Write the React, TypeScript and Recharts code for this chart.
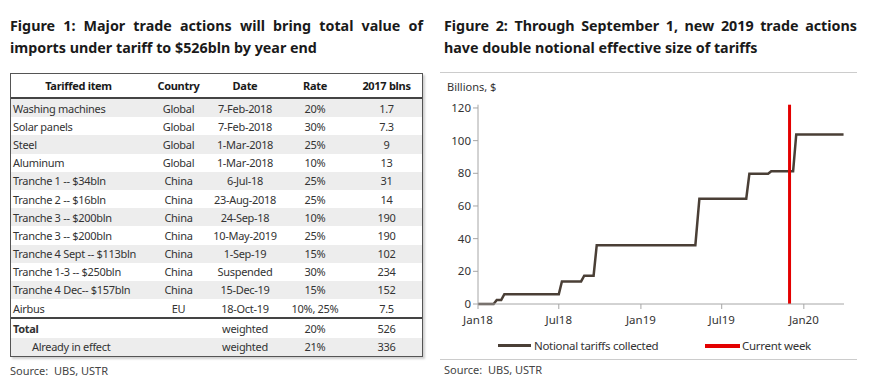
import { LineChart, Line, XAxis, YAxis, ReferenceLine } from 'recharts';

// ---- Figure 1 table ----
const tableItems = [
  'Washing machines', 'Solar panels', 'Steel', 'Aluminum', 'Tranche 1 -- $34bln', 'Tranche 2 -- $16bln',
  'Tranche 3 -- $200bln', 'Tranche 3 -- $200bln', 'Tranche 4 Sept -- $113bln', 'Tranche 1-3 -- $250bln',
  'Tranche 4 Dec-- $157bln', 'Airbus',
];
const tableCountries = ['Global', 'Global', 'Global', 'Global', 'China', 'China', 'China', 'China', 'China', 'China', 'China', 'EU'];
const tableDates = [
  '7-Feb-2018', '7-Feb-2018', '1-Mar-2018', '1-Mar-2018', '6-Jul-18', '23-Aug-2018',
  '24-Sep-18', '10-May-2019', '1-Sep-19', 'Suspended', '15-Dec-19', '18-Oct-19',
];
const tableRates = ['20%', '30%', '25%', '10%', '25%', '25%', '10%', '25%', '15%', '30%', '15%', '10%, 25%'];
const tableBlns = ['1.7', '7.3', '9', '13', '31', '14', '190', '190', '102', '234', '152', '7.5'];
const tableHeaders = ['Tariffed item', 'Country', 'Date', 'Rate', '2017 blns'];
const totalLabels = ['Total', 'Already in effect'];
const totalDates = ['weighted', 'weighted'];
const totalRates = ['20%', '21%'];
const totalBlns = ['526', '336'];

// ---- Figure 2 chart ----
const stepDates = [
  '2018-01-01', '2018-02-05', '2018-02-12', '2018-02-22', '2018-03-01', '2018-07-01', '2018-07-08',
  '2018-08-20', '2018-08-27', '2018-09-17', '2018-09-24', '2019-05-03', '2019-05-12', '2019-08-25',
  '2019-09-01', '2019-10-13', '2019-10-20', '2019-12-08', '2019-12-15', '2020-03-30',
];
const stepValues = [0, 0, 2.4, 2.4, 6, 6, 13.8, 13.8, 17.3, 17.3, 36, 36, 64.5, 64.5, 79.7, 79.7, 81.3, 81.3, 103.8, 103.8];
const currentWeek = '2019-11-30';
const xTicks = ['2018-01-01', '2018-07-01', '2019-01-01', '2019-07-01', '2020-01-01'];
const yTicks = [0, 20, 40, 60, 80, 100, 120];
const monthNames = ['Jan', 'Feb', 'Mar', 'Apr', 'May', 'Jun', 'Jul', 'Aug', 'Sep', 'Oct', 'Nov', 'Dec'];

const chartData = stepDates.map((d, i) => ({ t: Date.parse(d), v: stepValues[i] }));

const font = '"Noto Sans", "Open Sans", sans-serif';
const colWidths = [135, 65, 68, 72, 71];
const lineColor = '#4a3f36';
const red = '#e30000';

function Row({ cells, bg, height, bold, boldFirst, indent, centerFirst }: {
  cells: string[]; bg: string; height: number; bold?: boolean; boldFirst?: boolean; indent?: number; centerFirst?: boolean;
}) {
  return (
    <div style={{ display: 'flex', height, background: bg, alignItems: 'center' }}>
      {cells.map((c, i) => (
        <div
          key={i}
          style={{
            width: colWidths[i],
            textAlign: i === 0 && !centerFirst ? 'left' : 'center',
            paddingLeft: i === 0 && !centerFirst ? 2 + (indent || 0) : 0,
            boxSizing: 'border-box',
            fontWeight: bold || (boldFirst && i === 0) ? 700 : 400,
            whiteSpace: 'nowrap',
          }}
        >
          {c}
        </div>
      ))}
    </div>
  );
}

function TitleBlock({ left, line1, line2 }: { left: number; line1: string; line2: string }) {
  return (
    <div style={{ position: 'absolute', left, top: 15, width: 413, fontFamily: font, fontWeight: 700, fontSize: 14.3, color: '#1a1a1a', lineHeight: '22px' }}>
      <div style={{ textAlign: 'justify', textAlignLast: 'justify' }}>{line1}</div>
      <div>{line2}</div>
    </div>
  );
}

export default function App() {
  return (
    <div style={{ position: 'absolute', left: 0, top: 0, width: 879, height: 385, background: '#fff', overflow: 'hidden' }}>
      <TitleBlock left={10} line1="Figure 1: Major trade actions will bring total value of" line2="imports under tariff to $526bln by year end" />
      <TitleBlock left={444} line1="Figure 2: Through September 1, new 2019 trade actions" line2="have double notional effective size of tariffs" />

      {/* table */}
      <div
        style={{
          position: 'absolute', left: 10, top: 73, width: 411, border: '1px solid #555',
          fontFamily: font, fontSize: 11, color: '#333', boxShadow: '2px 2px 2px #d0d0d0', letterSpacing: -0.3,
        }}
      >
        <div style={{ borderBottom: '2.5px solid #444', color: '#1a1a1a' }}>
          <Row cells={tableHeaders} bg="#fff" height={23} bold centerFirst />
        </div>
        {tableItems.map((item, i) => (
          <Row
            key={i}
            cells={[item, tableCountries[i], tableDates[i], tableRates[i], tableBlns[i]]}
            bg={i % 2 === 0 ? '#ededed' : '#fff'}
            height={18.2}
          />
        ))}
        <div style={{ borderTop: '2.5px solid #444' }}>
          {totalLabels.map((l, i) => (
            <Row
              key={i}
              cells={[l, '', totalDates[i], totalRates[i], totalBlns[i]]}
              bg={i % 2 === 0 ? '#fff' : '#ededed'}
              height={18.3}
              boldFirst={i === 0}
              indent={i === 0 ? 0 : 19}
            />
          ))}
        </div>
      </div>
      <div style={{ position: 'absolute', left: 10, top: 363, fontFamily: font, fontSize: 11, color: '#444' }}>Source:&nbsp; UBS, USTR</div>

      {/* chart panel */}
      <div style={{ position: 'absolute', left: 440, top: 72, width: 417, height: 1, background: '#ccc' }} />
      <div style={{ position: 'absolute', left: 447, top: 79, fontFamily: font, fontSize: 11, color: '#333' }}>Billions, $</div>
      <div style={{ position: 'absolute', left: 440, top: 80 }}>
        <LineChart width={439} height={280} data={chartData} margin={{ top: 24.7, right: 35, bottom: 26, left: 0 }}>
          <XAxis
            dataKey="t"
            type="number"
            domain={[Date.parse('2018-01-01'), Date.parse('2020-03-31')]}
            ticks={xTicks.map((d) => Date.parse(d))}
            tickFormatter={(t: number) => {
              const d = new Date(t);
              return monthNames[d.getUTCMonth()] + String(d.getUTCFullYear()).slice(2);
            }}
            stroke="#a6a6a6"
            tick={{ fill: '#333', fontSize: 11.5, fontFamily: font }}
            tickSize={5}
            tickMargin={7}
            height={30}
          />
          <YAxis
            domain={[0, 122]}
            ticks={yTicks}
            stroke="#a6a6a6"
            tick={{ fill: '#333', fontSize: 11.5, fontFamily: font }}
            tickSize={5}
            width={38}
          />
          <Line type="linear" dataKey="v" stroke={lineColor} strokeWidth={2.5} dot={false} isAnimationActive={false} />
          <ReferenceLine x={Date.parse(currentWeek)} stroke={red} strokeWidth={3} />
        </LineChart>
      </div>
      <div style={{ position: 'absolute', left: 498, top: 338, display: 'flex', alignItems: 'center', fontFamily: font, fontSize: 11.5, letterSpacing: -0.3, color: '#333' }}>
        <div style={{ width: 33, height: 3, background: lineColor, marginRight: 3 }} />
        <span>Notional tariffs collected</span>
      </div>
      <div style={{ position: 'absolute', left: 705, top: 338, display: 'flex', alignItems: 'center', fontFamily: font, fontSize: 11.5, letterSpacing: -0.3, color: '#333' }}>
        <div style={{ width: 35, height: 4, background: red, marginRight: 2 }} />
        <span>Current week</span>
      </div>
      <div style={{ position: 'absolute', left: 440, top: 359, width: 417, height: 1, background: '#ccc' }} />
      <div style={{ position: 'absolute', left: 444, top: 362, fontFamily: font, fontSize: 11, color: '#444' }}>Source:&nbsp; UBS, USTR</div>
    </div>
  );
}
